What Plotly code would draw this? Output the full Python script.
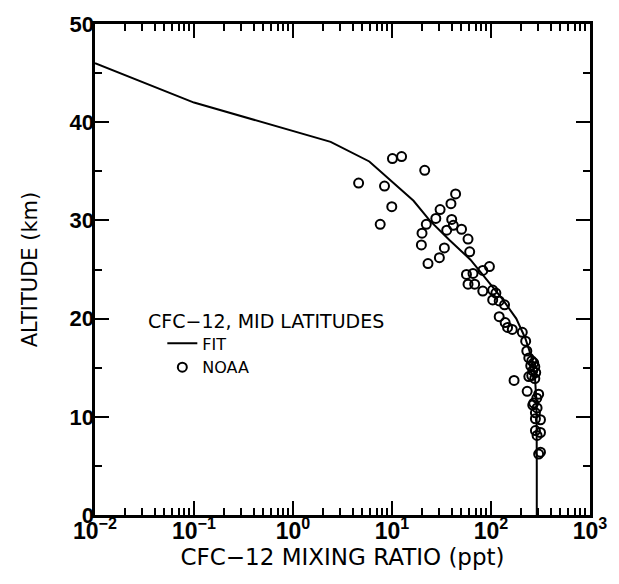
import plotly.graph_objects as go

# FIT curve (altitude km, mixing ratio ppt)
fit_alt = [46, 42, 38, 36, 32, 30, 28, 26, 24, 22, 20, 18, 16, 14, 12, 10, 5, 0]
fit_ppt = [0.01, 0.1, 2.4, 5.9, 16.5, 24, 38, 62, 90, 130, 180, 222, 258, 278, 286, 289, 290, 290]

# NOAA observations
noaa_ppt = [10.1, 12.5, 21.4, 4.6, 8.4, 9.95, 7.6, 43.9, 39.4, 30.6, 27.7, 22.2, 40.1, 41.6,
            50.4, 35.7, 20.1, 58.6, 19.8, 33.8, 60.9, 30.1, 23.1,
            96.4, 82.6, 56.5, 65.8, 58.6, 68.4, 82.6, 104, 112, 104, 121, 137, 121, 139, 147,
            164, 207, 224, 230, 241, 258, 270, 252, 277, 264, 283, 258, 277, 241, 171, 232,
            303, 270, 292, 281, 281, 316, 281, 316, 292, 316, 303, 290, 264]
noaa_alt = [36.3, 36.5, 35.1, 33.8, 33.5, 31.4, 29.6, 32.7, 31.7, 31.1, 30.2, 29.6, 30.1, 29.5,
            29.1, 29.0, 28.7, 28.1, 27.5, 27.2, 26.8, 26.2, 25.6,
            25.3, 24.9, 24.5, 24.6, 23.5, 23.5, 22.8, 22.9, 22.6, 21.9, 21.8, 21.4, 20.2, 19.6, 19.1,
            18.9, 18.6, 17.7, 16.7, 16.0, 15.7, 15.5, 15.2, 15.1, 14.7, 14.5, 14.2, 13.9, 14.1, 13.7, 12.6,
            12.3, 11.4, 10.9, 10.4, 9.8, 9.7, 8.6, 8.4, 8.1, 6.4, 6.2, 11.9, 11.2]

x_tickvals = [1e-2, 1e-1, 1e0, 1e1, 1e2, 1e3]
x_ticktext = ["<b>10<sup>−2</sup></b>", "<b>10<sup>−1</sup></b>", "<b>10<sup>0</sup></b>",
              "<b>10<sup>1</sup></b>", "<b>10<sup>2</sup></b>", "<b>10<sup>3</sup></b>"]
y_tickvals = [0, 10, 20, 30, 40, 50]
y_ticktext = ["<b>0</b>", "<b>10</b>", "<b>20</b>", "<b>30</b>", "<b>40</b>", "<b>50</b>"]

FONT = "Liberation Sans, Arial, Helvetica, sans-serif"
TFONT = "DejaVu Sans, Verdana, sans-serif"

fig = go.Figure()
fig.add_trace(go.Scatter(x=fit_ppt, y=fit_alt, mode="lines", name="FIT",
                         line=dict(color="black", width=2), xaxis="x", yaxis="y"))
fig.add_trace(go.Scatter(x=noaa_ppt, y=noaa_alt, mode="markers", name="NOAA",
                         marker=dict(symbol="circle-open", size=9, color="black",
                                     line=dict(color="black", width=2)),
                         xaxis="x2", yaxis="y2"))

fig.update_layout(
    width=619, height=584,
    margin=dict(l=95, r=22, t=20, b=69),
    paper_bgcolor="white", plot_bgcolor="white",
    font=dict(family=FONT, color="black"),
    showlegend=True,
    legend=dict(x=0.136, y=0.384, xanchor="left", yanchor="top",
                bgcolor="rgba(0,0,0,0)", font=dict(size=16, family=TFONT),
                tracegroupgap=0, itemwidth=30),
    annotations=[dict(text="CFC−12, MID LATITUDES", xref="paper", yref="paper",
                      x=0.103, y=0.396, xanchor="left", yanchor="middle", showarrow=False,
                      font=dict(size=19, family=TFONT))],
    # tick axes (frame + major/minor ticks)
    xaxis=dict(
        type="log", range=[-2, 3], dtick=1, showticklabels=False,
        ticks="inside", ticklen=14, tickwidth=2, tickcolor="black",
        minor=dict(ticks="inside", ticklen=7, tickwidth=2, tickcolor="black", showgrid=False),
        showline=True, linewidth=3, linecolor="black", mirror="ticks",
        showgrid=False, zeroline=False,
    ),
    yaxis=dict(
        range=[0, 50], dtick=10, showticklabels=False,
        ticks="inside", ticklen=14, tickwidth=2, tickcolor="black",
        minor=dict(dtick=5, ticks="inside", ticklen=7, tickwidth=2, tickcolor="black", showgrid=False),
        showline=True, linewidth=3, linecolor="black", mirror="ticks",
        showgrid=False, zeroline=False,
    ),
    # label axes (tick labels + titles)
    xaxis2=dict(
        type="log", range=[-2, 3], overlaying="x", anchor="y2", side="bottom",
        tickmode="array", tickvals=x_tickvals, ticktext=x_ticktext,
        tickfont=dict(size=23, family=FONT), ticks="", showline=False,
        showgrid=False, zeroline=False,
        title=dict(text="CFC−12 MIXING RATIO (ppt)", font=dict(size=23, family=TFONT), standoff=4),
    ),
    yaxis2=dict(
        range=[0, 50], overlaying="y", anchor="x2", side="left",
        tickmode="array", tickvals=y_tickvals, ticktext=y_ticktext,
        tickfont=dict(size=22, family=FONT), ticks="", showline=False,
        showgrid=False, zeroline=False,
        title=dict(text="ALTITUDE (km)", font=dict(size=21, family=TFONT), standoff=26),
    ),
)

fig.write_html("out.html")
